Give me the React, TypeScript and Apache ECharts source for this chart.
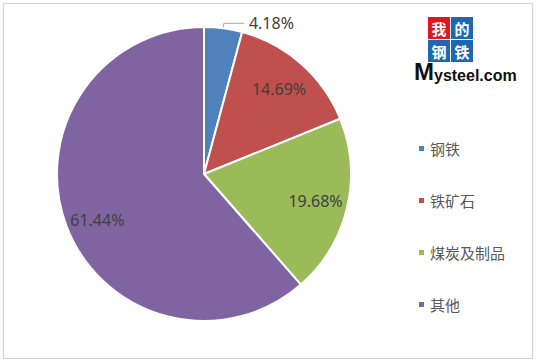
import React, { useEffect, useRef } from "react";
import * as echarts from "echarts";

const categories = ["钢铁", "铁矿石", "煤炭及制品", "其他"];
const values = [4.18, 14.69, 19.68, 61.44];
const colors = ["#4F81BD", "#C0504D", "#9BBB59", "#8064A2"];
// label placement for inside labels: radius fraction and optional angle override (deg clockwise from top)
const labelRadiusFrac = [0, 0.77, 0.78, 0.79];
const labelAngleOverride: (number | null)[] = [null, null, null, 246.7];
const logoChars = ["我", "的", "钢", "铁"];
const logoColors = ["#E3161F", "#2067B2", "#2067B2", "#2067B2"];

const CX = 204;
const CY = 174;
const R = 147;

export default function App() {
  const ref = useRef<HTMLDivElement>(null);
  useEffect(() => {
    if (!ref.current) return;
    const chart = echarts.init(ref.current, undefined, { renderer: "svg" });
    const total = values.reduce((a, b) => a + b, 0);
    const cum: number[] = [];
    let acc = 0;
    values.forEach((v) => {
      cum.push(acc + v / 2);
      acc += v;
    });
    const data = categories.map((name, i) => ({
      name,
      value: values[i],
      itemStyle: { color: colors[i] },
      label:
        i === 0
          ? { position: "outside" as const }
          : { position: "inside" as const },
    }));
    const logoChildren: any[] = [];
    logoChars.forEach((ch, i) => {
      const col = i % 2;
      const row = Math.floor(i / 2);
      logoChildren.push({
        type: "rect",
        shape: { x: col * 23, y: row * 23, width: 22, height: 22 },
        style: { fill: logoColors[i] },
      });
      logoChildren.push({
        type: "text",
        x: col * 23 + 11,
        y: row * 23 + 11,
        style: {
          text: ch,
          fill: "#fff",
          fontSize: 15,
          fontWeight: "bold",
          fontFamily: "Noto Sans CJK SC",
          align: "center",
          verticalAlign: "middle",
        },
      });
    });
    chart.setOption({
      animation: false,
      backgroundColor: "#ffffff",
      legend: {
        orient: "vertical",
        left: 417,
        top: 141,
        padding: 0,
        itemWidth: 7,
        itemHeight: 7,
        itemGap: 37,
        icon: "rect",
        selectedMode: false,
        data: categories,
        textStyle: {
          fontSize: 15,
          color: "#595959",
          fontFamily: "Noto Sans CJK SC",
        },
      },
      graphic: [
        {
          type: "rect",
          shape: { x: 3.5, y: 3.5, width: 529, height: 355 },
          style: { fill: "none", stroke: "#d4d4d4", lineWidth: 1.2 },
          silent: true,
        },
        {
          type: "group",
          left: 428,
          top: 17,
          children: logoChildren,
        },
        {
          type: "text",
          left: 414,
          top: 59,
          style: {
            text: "{m|M}{r|ysteel.com}",
            rich: {
              m: { fontSize: 24, fontWeight: "bold", fontFamily: "Liberation Sans", fill: "#111", verticalAlign: "bottom" },
              r: { fontSize: 16, fontWeight: "bold", fontFamily: "Liberation Sans", fill: "#111", verticalAlign: "bottom" },
            },
          },
        },
      ],
      series: [
        {
          type: "pie",
          center: [CX, CY],
          radius: [0, R],
          startAngle: 90,
          clockwise: true,
          data,
          itemStyle: { borderColor: "#ffffff", borderWidth: 2 },
          emphasis: { disabled: true },
          label: {
            formatter: (p: any) => p.value.toFixed(2) + "%",
            fontSize: 16,
            color: "#404040",
            fontFamily: "Noto Sans",
          },
          labelLine: {
            show: true,
            length: 5,
            length2: 20,
            lineStyle: { color: "#a6a6a6", width: 1 },
          },
          labelLayout: (params: any) => {
            const i = params.dataIndex;
            if (i === 0) return {};
            const ang =
              labelAngleOverride[i] !== null
                ? (labelAngleOverride[i] as number)
                : (cum[i] / total) * 360;
            const rad = (ang * Math.PI) / 180;
            const d = R * labelRadiusFrac[i];
            return {
              x: CX + d * Math.sin(rad),
              y: CY - d * Math.cos(rad),
              align: "center",
              verticalAlign: "middle",
            };
          },
        },
      ],
    });
    return () => chart.dispose();
  }, []);
  return (
    <div
      ref={ref}
      style={{ position: "fixed", left: 0, top: 0, width: 537, height: 363 }}
    />
  );
}
